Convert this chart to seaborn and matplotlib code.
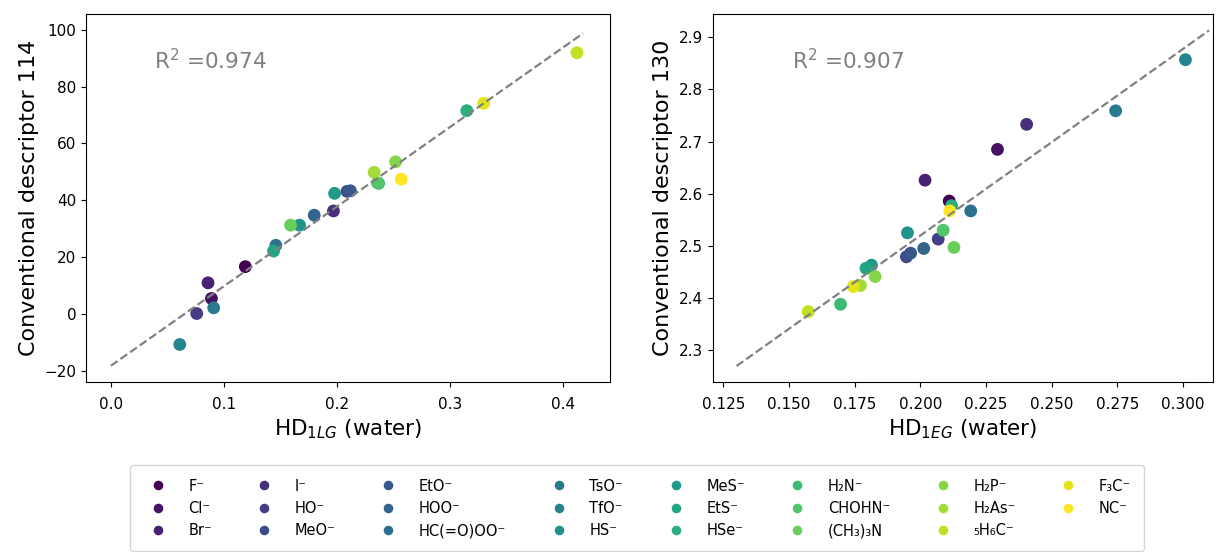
import numpy as np
import pandas as pd
import seaborn as sns
import matplotlib
matplotlib.use("Agg")
import matplotlib.pyplot as plt

# leaving groups, in legend order
names = ["F⁻", "Cl⁻", "Br⁻", "I⁻", "HO⁻", "MeO⁻", "EtO⁻", "HOO⁻", "HC(=O)OO⁻",
         "TsO⁻", "TfO⁻", "HS⁻", "MeS⁻", "EtS⁻", "HSe⁻", "H₂N⁻", "CHOHN⁻",
         "(CH₃)₃N", "H₂P⁻", "H₂As⁻", "₅H₆C⁻", "F₃C⁻", "NC⁻"]

# left panel: HD_1LG vs descriptor 114
hd_lg = [0.119, 0.089, 0.086, 0.197, 0.076, 0.209, 0.212, 0.180, 0.146,
         0.091, 0.061, 0.167, 0.198, 0.144, 0.315, 0.237, 0.236,
         0.159, 0.252, 0.233, 0.4125, 0.330, 0.257]
desc114 = [16.6, 5.4, 10.9, 36.2, 0.1, 43.1, 43.3, 34.7, 24.1,
           2.1, -10.8, 31.2, 42.4, 22.1, 71.5, 45.9, 46.1,
           31.2, 53.5, 49.8, 91.9, 74.1, 47.4]

# right panel: HD_1EG vs descriptor 130
hd_eg = [0.211, 0.2294, 0.2018, 0.2405, 0.2068, 0.1947, 0.1963, 0.2013, 0.2192,
         0.2744, 0.301, 0.1951, 0.1814, 0.1793, 0.2119, 0.1696, 0.2087,
         0.2128, 0.1828, 0.1772, 0.1573, 0.1745, 0.2112]
desc130 = [2.586, 2.685, 2.626, 2.733, 2.513, 2.479, 2.486, 2.495, 2.567,
           2.759, 2.857, 2.525, 2.463, 2.457, 2.577, 2.388, 2.530,
           2.497, 2.441, 2.424, 2.374, 2.422, 2.567]

r2_left = 0.974
r2_right = 0.907

df = pd.DataFrame({"group": names, "hd_lg": hd_lg, "d114": desc114,
                   "hd_eg": hd_eg, "d130": desc130})

pal = [tuple(c) for c in plt.cm.viridis(np.linspace(0, 1, len(names)))]

fig = plt.figure(figsize=(12.25, 5.52), dpi=100)
ax1 = fig.add_axes([0.0702, 0.308, 0.428, 0.667])
ax2 = fig.add_axes([0.582, 0.308, 0.408, 0.667])

sns.scatterplot(data=df, x="hd_lg", y="d114", hue="group", hue_order=names,
                palette=pal, s=85, linewidth=0, ax=ax1)
sns.scatterplot(data=df, x="hd_eg", y="d130", hue="group", hue_order=names,
                palette=pal, s=85, linewidth=0, ax=ax2, legend=False)

# linear fits
for ax, x, y, lo, hi in [(ax1, hd_lg, desc114, 0.0, 0.418),
                         (ax2, hd_eg, desc130, 0.13, 0.31)]:
    k, b = np.polyfit(x, y, 1)
    xx = np.linspace(lo, hi, 50)
    ax.plot(xx, k * xx + b, "--", color="gray", lw=1.6)

ax1.set_xlim(-0.022, 0.442)
ax1.set_ylim(-24, 105.6)
ax1.set_xticks([0.0, 0.1, 0.2, 0.3, 0.4])
ax2.set_xlim(0.121, 0.3114)
ax2.set_ylim(2.239, 2.945)
ax2.set_xticks([0.125, 0.150, 0.175, 0.200, 0.225, 0.250, 0.275, 0.300])

for ax in (ax1, ax2):
    ax.tick_params(labelsize=11)
    ax.tick_params(axis="x", pad=7)

ax1.text(0.13, 0.873, r"R$^2$ =" + f"{r2_left:.3f}", transform=ax1.transAxes,
         fontsize=15.5, color="gray", va="center")
ax2.text(0.158, 0.873, r"R$^2$ =" + f"{r2_right:.3f}", transform=ax2.transAxes,
         fontsize=15.5, color="gray", va="center")

ax1.set_xlabel(r"HD$_{1LG}$ (water)", fontsize=15.5)
ax1.set_ylabel("Conventional descriptor 114", fontsize=16)
ax2.set_xlabel(r"HD$_{1EG}$ (water)", fontsize=15.5)
ax2.set_ylabel("Conventional descriptor 130", fontsize=16)

handles, labels = ax1.get_legend_handles_labels()
ax1.get_legend().remove()
fig.legend(handles, labels, ncol=8, loc="upper center",
           bbox_to_anchor=(0.52, 0.17), fontsize=10.5, frameon=True,
           columnspacing=2.6, handletextpad=1.1, labelspacing=0.5,
           borderpad=0.9, markerscale=0.75)

fig.savefig("out.png", dpi=100)
